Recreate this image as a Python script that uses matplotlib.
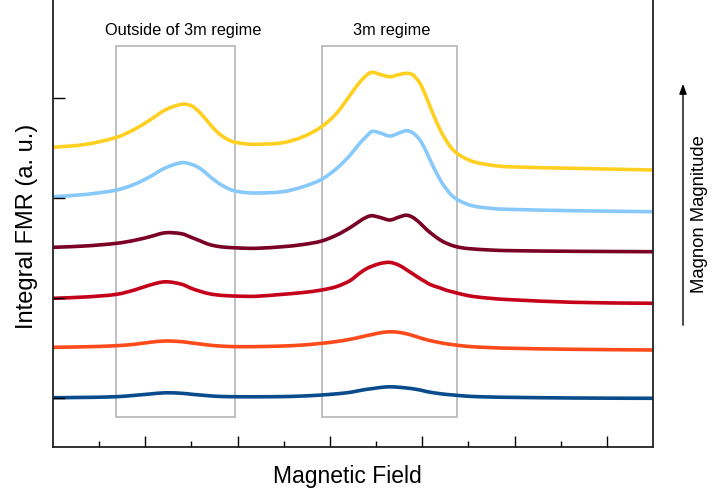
import matplotlib
matplotlib.use("Agg")
import matplotlib.pyplot as plt
from matplotlib.patches import Rectangle, PathPatch, FancyArrowPatch
from matplotlib.path import Path

plt.rcParams["font.family"] = ["Liberation Sans", "DejaVu Sans"]

# sweep positions (arbitrary field units) shared by all spectra
field = [0.00, 0.69, 1.38, 1.78, 2.10, 2.43, 2.79, 3.01, 3.19, 3.36,
         3.55, 3.73, 3.90, 4.16, 4.41, 4.98, 5.42, 5.82, 6.15, 6.44,
         6.65, 6.80, 6.91, 7.09, 7.30, 7.50, 7.66, 7.80, 7.95, 8.06,
         8.17, 8.39, 8.54, 8.67, 8.86, 9.11, 9.47, 9.83, 11.27, 13.00]

# integrated FMR spectra, stacked by magnon magnitude (lowest first)
fmr_1 = [0.003, 0.006, 0.013, 0.027, 0.040, 0.052, 0.047, 0.037, 0.030, 0.023,
         0.017, 0.014, 0.013, 0.012, 0.012, 0.014, 0.020, 0.030, 0.042, 0.057,
         0.075, 0.087, 0.093, 0.105, 0.112, 0.107, 0.100, 0.092, 0.080, 0.068,
         0.058, 0.043, 0.035, 0.030, 0.022, 0.015, 0.010, 0.007, 0.000, -0.003]
fmr_2 = [0.507, 0.512, 0.523, 0.538, 0.557, 0.570, 0.563, 0.550, 0.540, 0.530,
         0.522, 0.517, 0.514, 0.513, 0.514, 0.520, 0.530, 0.547, 0.565, 0.587,
         0.608, 0.624, 0.634, 0.652, 0.662, 0.656, 0.642, 0.624, 0.602, 0.587,
         0.574, 0.553, 0.541, 0.533, 0.522, 0.512, 0.504, 0.498, 0.487, 0.480]
fmr_3 = [0.997, 1.010, 1.037, 1.082, 1.130, 1.162, 1.137, 1.094, 1.067, 1.045,
         1.031, 1.024, 1.020, 1.017, 1.017, 1.037, 1.055, 1.080, 1.115, 1.175,
         1.250, 1.295, 1.317, 1.345, 1.356, 1.327, 1.282, 1.240, 1.195, 1.165,
         1.135, 1.100, 1.075, 1.060, 1.037, 1.015, 0.997, 0.985, 0.957, 0.947]
fmr_4 = [1.507, 1.520, 1.547, 1.578, 1.613, 1.652, 1.642, 1.604, 1.571, 1.539,
         1.518, 1.508, 1.503, 1.498, 1.497, 1.513, 1.535, 1.570, 1.630, 1.705,
         1.770, 1.810, 1.823, 1.805, 1.780, 1.810, 1.828, 1.805, 1.750, 1.700,
         1.655, 1.580, 1.545, 1.522, 1.502, 1.490, 1.480, 1.474, 1.467, 1.463]
fmr_5 = [2.013, 2.035, 2.080, 2.140, 2.213, 2.300, 2.353, 2.335, 2.295, 2.230,
         2.160, 2.110, 2.075, 2.055, 2.050, 2.063, 2.113, 2.187, 2.297, 2.430,
         2.550, 2.620, 2.665, 2.650, 2.620, 2.650, 2.673, 2.650, 2.580, 2.490,
         2.380, 2.180, 2.080, 2.013, 1.960, 1.920, 1.897, 1.887, 1.873, 1.863]
fmr_6 = [2.507, 2.535, 2.607, 2.690, 2.780, 2.880, 2.937, 2.920, 2.850, 2.760,
         2.663, 2.600, 2.563, 2.542, 2.537, 2.553, 2.613, 2.713, 2.850, 3.030,
         3.160, 3.230, 3.257, 3.235, 3.213, 3.235, 3.247, 3.230, 3.147, 3.040,
         2.913, 2.680, 2.560, 2.480, 2.415, 2.363, 2.330, 2.313, 2.297, 2.280]

spectra = [fmr_1, fmr_2, fmr_3, fmr_4, fmr_5, fmr_6]
colors = ["#0A4B8C", "#FF4B1C", "#C5001A", "#7A0026", "#87C9FA", "#FFD020"]

# field windows that are highlighted: (label, label centre, start, end)
regions = [("Outside of 3m regime", 2.81, 1.37, 3.94),
           ("3m regime", 7.33, 5.83, 8.75)]


def smooth_path(x, y):
    """Cubic Hermite Bezier path passing through every (x, y) sample."""
    n = len(x)
    slopes = []
    for i in range(n):
        a, b = max(i - 1, 0), min(i + 1, n - 1)
        slopes.append((y[b] - y[a]) / (x[b] - x[a]))
    verts = [(x[0], y[0])]
    codes = [Path.MOVETO]
    for i in range(n - 1):
        h = x[i + 1] - x[i]
        verts += [(x[i] + h / 3, y[i] + slopes[i] * h / 3),
                  (x[i + 1] - h / 3, y[i + 1] - slopes[i + 1] * h / 3),
                  (x[i + 1], y[i + 1])]
        codes += [Path.CURVE4] * 3
    return Path(verts, codes)


fig = plt.figure(figsize=(7.14, 4.97), dpi=100)
ax = fig.add_axes([53 / 714, 50 / 497, 600 / 714, 447 / 497])

for y, c in zip(spectra, colors):
    ax.add_patch(PathPatch(smooth_path(field, y), facecolor="none", edgecolor=c,
                           lw=2.6, capstyle="butt", joinstyle="round"))

for label, xc, x0, x1 in regions:
    ax.add_patch(Rectangle((x0, -0.19), x1 - x0, 3.71, fill=False,
                           edgecolor="#b5b5b5", lw=1.2, zorder=0))
    ax.text(xc, 3.67, label, ha="center", va="center", fontsize=11.8)

ax.set_xlim(0, 13)
ax.set_ylim(-0.49, 3.98)

ax.spines["top"].set_visible(False)
for s in ["left", "bottom", "right"]:
    ax.spines[s].set_linewidth(1.3)
    ax.spines[s].set_color("#222222")

ax.set_xticks(range(2, 13, 2))
ax.set_xticks(range(1, 13, 2), minor=True)
ax.set_yticks([0, 1, 2, 3])
ax.tick_params(axis="x", which="major", direction="in", length=8, width=1.0,
               labelbottom=False)
ax.tick_params(axis="x", which="minor", direction="in", length=4.5, width=1.0)
ax.tick_params(axis="y", which="major", direction="in", length=8.5, width=1.0,
               labelleft=False)

fig.text(27 / 714, 1 - 226 / 497, "Integral FMR (a. u.)", rotation=90,
         ha="center", va="center", fontsize=17)
fig.text(347 / 714, 1 - 476 / 497, "Magnetic Field", ha="center", va="center",
         fontsize=16.5)

# arrow showing increasing magnon magnitude
fig.patches.append(FancyArrowPatch(
    (683 / 714, 1 - 328 / 497), (683 / 714, 1 - 81 / 497),
    transform=fig.transFigure, arrowstyle="-|>,head_length=6,head_width=2.2",
    lw=1.0, color="black"))
fig.text(700 / 714, 1 - 214 / 497, "Magnon Magnitude", rotation=90,
         ha="center", va="center", fontsize=13.3)

fig.savefig("out.png", dpi=100)
